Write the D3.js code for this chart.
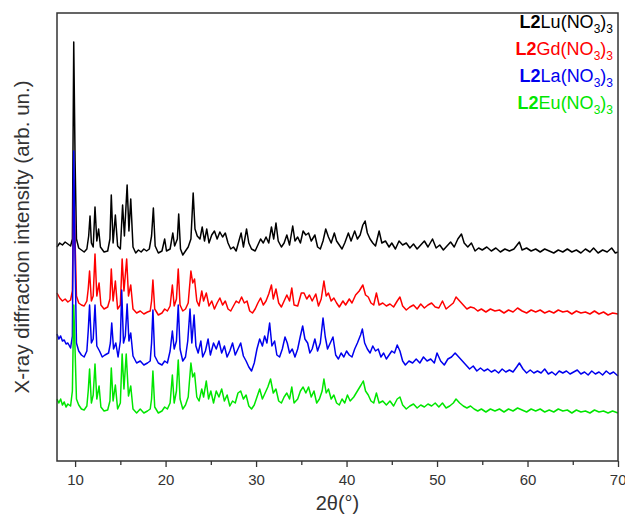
<!DOCTYPE html>
<html>
<meta charset="UTF-8">
<head>
<style>
body { margin: 0; background: white; }
text { font-family: "Liberation Sans", Arial, sans-serif; }
</style>
</head>
<body>
<script src="https://d3js.org/d3.v7.min.js"></script>
<script>

// diffraction patterns, [2theta, intensity (arb. un., offset as plotted)]
var luData = [[8.0,214],[8.3,218],[8.6,216],[8.9,219],[9.2,217],[9.5,215],[9.7,222],[9.85,419],[10.0,300],[10.15,222],
  [10.4,213],[10.7,211],[11.0,209],[11.3,212],[11.5,225],[11.65,245],[11.8,218],[12.0,214],[12.2,254],[12.4,220],
  [12.6,232],[12.8,214],[13.2,209],[13.6,210],[13.85,222],[14.0,266],[14.2,218],[14.45,246],[14.7,215],[15.0,212],
  [15.25,256],[15.45,225],[15.75,276],[15.95,230],[16.15,262],[16.4,214],[16.7,208],[17.0,211],[17.3,209],[17.6,212],
  [17.9,210],[18.2,212],[18.45,225],[18.65,253],[18.85,215],[19.2,208],[19.6,210],[19.9,222],[20.1,210],[20.5,212],
  [20.8,228],[21.0,215],[21.3,222],[21.45,247],[21.65,212],[21.9,206],[22.2,210],[22.5,214],[22.8,222],[23.05,268],
  [23.25,232],[23.5,225],[23.8,222],[24.05,234],[24.3,220],[24.55,232],[24.8,218],[25.1,226],[25.4,230],[25.7,222],
  [26.0,229],[26.3,224],[26.6,228],[26.9,218],[27.2,212],[27.5,214],[27.8,210],[28.1,220],[28.35,228],[28.6,214],
  [28.95,232],[29.2,218],[29.5,212],[29.9,210],[30.2,216],[30.5,222],[30.8,218],[31.1,224],[31.4,218],[31.7,234],
  [31.95,222],[32.2,238],[32.45,220],[32.8,214],[33.1,218],[33.4,226],[33.7,216],[34.05,235],[34.3,220],[34.6,224],
  [34.9,218],[35.2,230],[35.5,226],[35.8,228],[36.1,220],[36.5,226],[36.8,214],[37.1,212],[37.4,220],[37.7,232],
  [38.0,224],[38.3,218],[38.65,228],[38.9,220],[39.2,216],[39.5,212],[39.8,218],[40.2,228],[40.5,220],[40.9,230],
  [41.2,222],[41.5,226],[41.8,236],[42.05,240],[42.3,228],[42.6,222],[42.9,218],[43.2,215],[43.6,230],[43.9,218],
  [44.3,220],[44.7,214],[45.0,218],[45.4,212],[45.8,220],[46.2,216],[46.6,218],[47.0,213],[47.4,217],[47.8,212],
  [48.2,216],[48.6,220],[49.0,214],[49.5,222],[49.9,213],[50.3,216],[50.7,211],[51.1,215],[51.5,219],[51.9,214],
  [52.3,222],[52.7,227],[53.0,218],[53.4,214],[53.8,218],[54.2,210],[54.6,213],[55.0,211],[55.5,214],[56.0,210],
  [56.5,213],[57.0,209],[57.5,212],[58.0,210],[58.5,212],[59.1,219],[59.4,211],[59.9,213],[60.4,210],[60.9,212],
  [61.4,209],[61.9,212],[62.4,210],[62.9,208],[63.4,211],[63.9,209],[64.4,212],[64.9,209],[65.4,211],[65.9,208],
  [66.4,212],[66.9,209],[67.3,213],[67.8,208],[68.3,211],[68.8,209],[69.3,213],[69.7,208],[70.0,209]]

var gdData = [[8.0,168],[8.3,163],[8.6,160],[8.9,162],[9.2,159],[9.5,161],[9.7,170],[9.85,281],[10.0,220],[10.15,165],
  [10.4,158],[10.7,156],[11.0,155],[11.3,160],[11.45,172],[11.6,190],[11.8,160],[12.0,165],[12.2,207],[12.4,165],
  [12.65,178],[12.85,156],[13.2,152],[13.6,154],[13.85,162],[14.0,192],[14.2,160],[14.45,180],[14.7,152],[15.0,156],
  [15.2,202],[15.4,170],[15.7,202],[15.9,165],[16.15,176],[16.4,152],[16.8,148],[17.2,150],[17.6,147],[18.0,149],
  [18.3,150],[18.45,160],[18.6,181],[18.8,152],[19.2,146],[19.6,148],[19.9,152],[20.2,150],[20.5,155],[20.75,176],
  [20.95,155],[21.2,162],[21.4,192],[21.6,156],[21.9,150],[22.2,152],[22.5,158],[22.8,190],[23.0,178],[23.2,182],
  [23.45,160],[23.7,155],[24.0,170],[24.2,160],[24.5,168],[24.8,155],[25.1,160],[25.4,152],[25.7,158],[26.0,163],
  [26.3,156],[26.6,160],[26.9,152],[27.2,150],[27.5,155],[27.8,160],[28.1,158],[28.4,164],[28.7,158],[29.0,160],
  [29.3,150],[29.6,148],[29.9,152],[30.2,158],[30.5,163],[30.8,156],[31.1,160],[31.4,167],[31.7,176],[31.9,162],
  [32.2,172],[32.5,158],[32.8,154],[33.1,160],[33.4,166],[33.7,160],[33.95,173],[34.2,156],[34.6,155],[35.0,168],
  [35.3,168],[35.6,162],[35.9,166],[36.2,160],[36.6,167],[36.9,155],[37.2,162],[37.5,180],[37.75,165],[38.0,168],
  [38.3,160],[38.6,163],[38.9,158],[39.2,154],[39.6,160],[39.9,156],[40.3,162],[40.6,158],[41.0,166],[41.4,170],
  [41.8,176],[42.1,166],[42.4,164],[42.7,158],[43.0,156],[43.3,168],[43.6,156],[44.0,158],[44.4,155],[44.8,157],
  [45.2,154],[45.6,160],[45.9,164],[46.2,155],[46.6,151],[47.0,154],[47.4,156],[47.8,152],[48.2,157],[48.6,153],
  [49.0,156],[49.4,158],[49.8,154],[50.2,153],[50.6,160],[51.0,152],[51.4,155],[51.8,158],[52.1,164],[52.5,160],
  [52.9,156],[53.3,152],[53.7,154],[54.1,153],[54.5,150],[54.9,152],[55.4,149],[55.9,152],[56.4,150],[56.9,151],
  [57.4,148],[57.9,151],[58.4,149],[58.9,153],[59.4,150],[59.9,148],[60.4,151],[60.9,149],[61.4,151],[61.9,148],
  [62.4,150],[62.9,148],[63.4,151],[63.9,149],[64.4,150],[64.9,147],[65.4,150],[65.9,148],[66.4,149],[66.9,147],
  [67.4,150],[67.9,147],[68.4,149],[68.9,146],[69.4,148],[70.0,147]]

var laData = [[8.0,127],[8.2,122],[8.4,125],[8.6,120],[8.8,121],[9.0,117],[9.2,118],[9.5,113],[9.7,125],[9.85,310],
  [10.0,200],[10.15,118],[10.4,110],[10.7,106],[11.0,104],[11.3,110],[11.45,130],[11.6,156],[11.8,118],[12.0,122],
  [12.2,156],[12.4,115],[12.7,110],[13.0,104],[13.3,106],[13.7,108],[13.9,118],[14.05,138],[14.25,112],[14.5,118],
  [14.75,104],[15.0,120],[15.15,171],[15.35,118],[15.55,125],[15.75,157],[15.95,120],[16.15,128],[16.4,105],[16.8,98],
  [17.2,100],[17.6,96],[18.0,98],[18.3,100],[18.45,118],[18.6,151],[18.8,105],[19.2,98],[19.6,96],[19.9,100],
  [20.2,98],[20.5,110],[20.75,130],[20.95,112],[21.2,120],[21.4,156],[21.6,112],[21.9,100],[22.2,104],[22.45,120],
  [22.7,152],[22.9,118],[23.15,146],[23.35,115],[23.6,108],[23.9,120],[24.1,104],[24.4,110],[24.7,122],[24.95,106],
  [25.3,118],[25.6,112],[25.9,120],[26.2,108],[26.5,115],[26.8,104],[27.1,110],[27.4,118],[27.7,106],[28.0,112],
  [28.3,118],[28.6,105],[28.9,100],[29.2,94],[29.5,90],[29.8,98],[30.1,112],[30.4,122],[30.7,115],[30.95,125],
  [31.2,118],[31.5,138],[31.75,115],[32.05,120],[32.3,106],[32.6,104],[32.9,112],[33.2,124],[33.45,118],[33.7,108],
  [34.0,112],[34.3,104],[34.6,112],[34.9,125],[35.15,135],[35.4,122],[35.7,118],[35.95,108],[36.2,112],[36.5,122],
  [36.8,110],[37.1,118],[37.4,143],[37.65,124],[37.9,112],[38.2,118],[38.5,124],[38.8,106],[39.1,102],[39.4,108],
  [39.7,104],[40.0,110],[40.3,106],[40.6,104],[40.9,112],[41.2,118],[41.55,126],[41.75,132],[42.0,118],[42.3,112],
  [42.6,108],[42.9,115],[43.2,110],[43.5,112],[43.8,104],[44.1,108],[44.4,102],[44.7,106],[45.0,110],[45.3,108],
  [45.6,116],[45.9,110],[46.2,100],[46.5,96],[46.9,100],[47.3,98],[47.7,102],[48.1,98],[48.5,104],[48.9,100],
  [49.3,102],[49.7,98],[50.0,108],[50.4,100],[50.8,96],[51.2,102],[51.6,104],[52.0,108],[52.4,104],[52.8,100],
  [53.2,96],[53.6,92],[54.0,95],[54.4,90],[54.8,93],[55.2,90],[55.6,92],[56.0,89],[56.4,91],[56.8,88],
  [57.2,92],[57.6,89],[58.0,91],[58.4,89],[58.8,94],[59.1,98],[59.5,92],[59.9,88],[60.3,91],[60.7,88],
  [61.1,90],[61.5,88],[61.9,92],[62.3,87],[62.7,89],[63.1,86],[63.5,90],[63.9,88],[64.3,90],[64.7,87],
  [65.1,89],[65.5,91],[65.9,87],[66.3,89],[66.7,86],[67.1,90],[67.5,87],[67.9,89],[68.3,86],[68.7,90],
  [69.1,87],[69.5,89],[70.0,85]]

var euData = [[8.0,62],[8.2,58],[8.4,62],[8.6,56],[8.8,59],[9.0,54],[9.2,57],[9.5,55],[9.7,70],[9.85,156],
  [10.0,110],[10.15,62],[10.4,56],[10.7,52],[11.0,51],[11.3,55],[11.45,70],[11.6,92],[11.8,58],[12.0,66],
  [12.2,97],[12.4,62],[12.65,75],[12.85,54],[13.2,50],[13.6,51],[13.85,60],[14.0,93],[14.2,60],[14.45,76],
  [14.7,52],[15.0,58],[15.2,107],[15.4,72],[15.65,107],[15.9,65],[16.15,75],[16.4,52],[16.8,48],[17.2,52],
  [17.6,48],[18.0,50],[18.3,52],[18.45,62],[18.6,90],[18.8,54],[19.2,48],[19.6,50],[19.9,54],[20.2,52],
  [20.5,58],[20.75,86],[20.95,58],[21.2,70],[21.4,101],[21.6,62],[21.9,52],[22.2,56],[22.5,64],[22.8,98],
  [23.0,84],[23.2,88],[23.45,64],[23.7,60],[24.0,72],[24.2,64],[24.5,80],[24.75,62],[25.0,70],[25.3,58],
  [25.6,70],[25.9,64],[26.2,72],[26.5,60],[26.8,66],[27.1,55],[27.4,60],[27.7,58],[28.0,68],[28.3,70],
  [28.6,62],[28.9,66],[29.2,55],[29.5,52],[29.8,56],[30.1,64],[30.4,72],[30.7,62],[31.0,68],[31.3,74],
  [31.6,82],[31.9,68],[32.2,72],[32.5,60],[32.8,58],[33.1,64],[33.4,68],[33.7,62],[33.95,74],[34.2,58],
  [34.6,62],[34.9,70],[35.2,74],[35.5,68],[35.8,74],[36.1,64],[36.4,70],[36.7,58],[37.0,62],[37.3,70],
  [37.5,82],[37.75,68],[38.0,72],[38.3,62],[38.6,66],[38.9,58],[39.2,56],[39.5,62],[39.8,58],[40.1,66],
  [40.4,60],[40.8,64],[41.2,70],[41.6,76],[41.85,80],[42.1,70],[42.4,66],[42.7,60],[43.0,58],[43.3,68],
  [43.6,58],[44.0,60],[44.4,56],[44.8,60],[45.2,55],[45.6,62],[45.9,64],[46.2,56],[46.6,52],[47.0,55],
  [47.4,57],[47.8,53],[48.2,56],[48.6,54],[49.0,57],[49.4,55],[49.8,58],[50.2,54],[50.6,58],[51.0,53],
  [51.4,55],[51.8,58],[52.1,62],[52.5,58],[52.9,55],[53.3,53],[53.7,55],[54.1,52],[54.5,50],[54.9,52],
  [55.4,49],[55.9,52],[56.4,50],[56.9,52],[57.4,49],[57.9,52],[58.4,50],[58.9,53],[59.4,51],[59.9,49],
  [60.4,52],[60.9,50],[61.4,52],[61.9,49],[62.4,51],[62.9,49],[63.4,52],[63.9,50],[64.4,51],[64.9,48],
  [65.4,51],[65.9,49],[66.4,50],[66.9,48],[67.4,51],[67.9,49],[68.4,50],[68.9,48],[69.4,50],[70.0,48]]

var seriesNames = ['Lu', 'Gd', 'La', 'Eu']
    seriesData = [luData, gdData, laData, euData]
    seriesColors = ['#000000', '#ff0000', '#0000ee', '#00e600']
    xTicks = [10, 20, 30, 40, 50, 60, 70]
    xMinorTicks = [15, 25, 35, 45, 55, 65]

// canvas
var svgWidth = 625
    svgHeight = 515
    margin = {"top": 13, "bottom": 54, "left": 57, "right": 7}
    chartWidth = svgWidth - (margin.left + margin.right)
    chartHeight = svgHeight - (margin.top + margin.bottom)

var svg = d3.select("body").append("svg")
          .attr("width", svgWidth)
          .attr("height", svgHeight)

var xScale = d3.scaleLinear()
            .domain([8, 70])
            .range([margin.left, svgWidth - margin.right])

var yScale = d3.scaleLinear()
            .domain([0, 448])
            .range([svgHeight - margin.bottom, margin.top])

var line = d3.line()
            .x(d => xScale(d[0]))
            .y(d => yScale(d[1]))

// patterns, black first so the others sit on top
svg.selectAll('.pattern').data(seriesData)
    .enter().append('path')
      .attr('class', 'pattern')
      .attr('d', line)
      .attr('fill', 'none')
      .attr('stroke', (d, i) => seriesColors[i])
      .attr('stroke-width', 1.5)
      .attr('stroke-linejoin', 'round')

// frame
svg.append('rect')
    .attr('x', margin.left)
    .attr('y', margin.top)
    .attr('width', chartWidth)
    .attr('height', chartHeight)
    .attr('fill', 'none')
    .attr('stroke', '#333')
    .attr('stroke-width', 1.5)

// x axis with outward major and minor ticks
var xAxis = d3.axisBottom(xScale)
            .tickValues(xTicks)
            .tickSize(6)
            .tickSizeOuter(0)

var xMinor = d3.axisBottom(xScale)
            .tickValues(xMinorTicks)
            .tickSize(4)
            .tickSizeOuter(0)
            .tickFormat('')

var gx = svg.append('g')
    .attr('transform', 'translate(0, ' + (svgHeight - margin.bottom) + ')')
    .call(xAxis)

gx.selectAll('text')
    .attr('font-size', 15)
    .attr('fill', '#333')
    .attr('dy', '1.0em')

// keep the last label inside the picture
gx.selectAll('.tick').filter(d => d == 70).select('text').attr('text-anchor', 'end').attr('dx', 8)

svg.append('g')
    .attr('transform', 'translate(0, ' + (svgHeight - margin.bottom) + ')')
    .call(xMinor)

svg.selectAll('.domain').remove()
svg.selectAll('.tick line').attr('stroke', '#333').attr('stroke-width', 1.3)

// axis titles
svg.append('text')
    .attr('x', margin.left + chartWidth / 2)
    .attr('y', 510)
    .attr('text-anchor', 'middle')
    .attr('font-size', 20)
    .attr('fill', '#333')
    .text('2θ(°)')

svg.append('text')
    .attr('transform', 'translate(29, ' + (margin.top + chartHeight / 2) + ') rotate(-90)')
    .attr('text-anchor', 'middle')
    .attr('font-size', 20.5)
    .attr('fill', '#333')
    .text('X-ray diffraction intensity (arb. un.)')

// legend, right aligned labels with subscripts
var legend = svg.selectAll('.legend').data(seriesNames)
    .enter().append('text')
      .attr('class', 'legend')
      .attr('x', 613)
      .attr('y', (d, i) => 28 + i * 27)
      .attr('text-anchor', 'end')
      .attr('font-size', 18)
      .attr('fill', (d, i) => seriesColors[i])

legend.append('tspan').attr('font-weight', 'bold').text('L2')
legend.append('tspan').text(d => d + '(NO')
legend.append('tspan').attr('font-size', 12).attr('dy', 5).text('3')
legend.append('tspan').attr('dy', -5).text(')')
legend.append('tspan').attr('font-size', 12).attr('dy', 5).text('3')

</script>
</body>
</html>
